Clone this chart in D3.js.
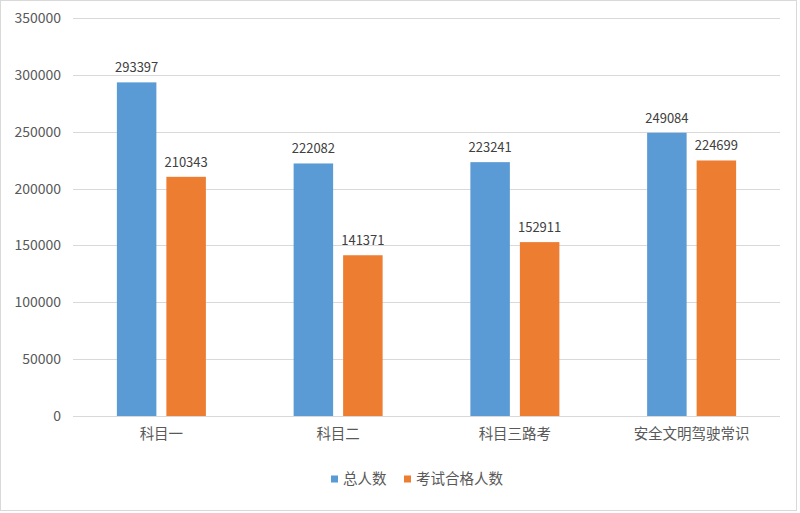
<!DOCTYPE html>
<html>
<head>
<meta charset="utf-8">
<script src="https://cdn.jsdelivr.net/npm/d3@7"></script>
<style>
  body { margin: 0; background: #fff; }
  text { font-family: "Noto Sans CJK SC", "Liberation Sans", sans-serif; }
</style>
</head>
<body>
<div id="chart"></div>
<script>
// data
var categories = ["科目一", "科目二", "科目三路考", "安全文明驾驶常识"];
var seriesNames = ["总人数", "考试合格人数"];
var totalCount = [293397, 222082, 223241, 249084];
var passCount = [210343, 141371, 152911, 224699];
var yTicks = [0, 50000, 100000, 150000, 200000, 250000, 300000, 350000];
var colors = ["#5b9bd5", "#ed7d31"];

var W = 800, H = 513;
var plotLeft = 73, plotRight = 780, plotTop = 18, plotBottom = 416;

var svg = d3.select("#chart").append("svg")
    .attr("width", W)
    .attr("height", H);

// outer frame
svg.append("rect")
    .attr("x", 0.5).attr("y", 0.5)
    .attr("width", 796).attr("height", 510)
    .attr("fill", "#fff")
    .attr("stroke", "#d9d9d9");

var x = d3.scaleBand().domain(categories).range([plotLeft, plotRight]);
var y = d3.scaleLinear().domain([0, 350000]).range([plotBottom, plotTop]);

var barW = 39.5, gap = 10;
var x1 = d3.scaleOrdinal().domain(seriesNames)
    .range([-(gap / 2 + barW), gap / 2]);

// gridlines
svg.append("g")
  .selectAll("line")
  .data(yTicks)
  .enter()
  .append("line")
    .attr("x1", plotLeft).attr("x2", plotRight)
    .attr("y1", function(d) { return Math.round(y(d)) + 0.5 })
    .attr("y2", function(d) { return Math.round(y(d)) + 0.5 })
    .attr("stroke", "#d9d9d9")
    .attr("stroke-width", 1);

// y axis labels
var yAxis = svg.append("g")
    .attr("transform", "translate(" + (plotLeft - 12) + ",0)")
    .call(d3.axisLeft(y).tickValues(yTicks).tickFormat(d3.format("d")).tickSize(0).tickPadding(0));
yAxis.select(".domain").remove();
yAxis.selectAll("text")
    .attr("fill", "#595959")
    .style("font-size", "14px")
    .style("font-family", "'Noto Sans CJK SC', sans-serif");

// category labels
var xAxis = svg.append("g")
    .attr("transform", "translate(0," + plotBottom + ")")
    .call(d3.axisBottom(x).tickSize(0).tickPadding(13));
xAxis.select(".domain").remove();
xAxis.selectAll("text")
    .attr("fill", "#595959")
    .style("font-size", "14.5px")
    .style("font-family", "'Noto Sans CJK SC', sans-serif");

var rows = categories.map(function(c, i) {
  return { cat: c, vals: [
    { s: seriesNames[0], v: totalCount[i], color: colors[0] },
    { s: seriesNames[1], v: passCount[i], color: colors[1] }
  ]};
});

var groups = svg.append("g")
  .selectAll("g")
  .data(rows)
  .enter()
  .append("g")
    .attr("transform", function(d) { return "translate(" + (x(d.cat) + x.bandwidth() / 2) + ",0)" });

groups.selectAll("rect")
  .data(function(d) { return d.vals })
  .enter()
  .append("rect")
    .attr("x", function(d) { return x1(d.s) })
    .attr("y", function(d) { return y(d.v) })
    .attr("width", barW)
    .attr("height", function(d) { return plotBottom - y(d.v) })
    .attr("fill", function(d) { return d.color });

// value labels
groups.selectAll("text")
  .data(function(d) { return d.vals })
  .enter()
  .append("text")
    .attr("x", function(d) { return x1(d.s) + barW / 2 })
    .attr("y", function(d) { return y(d.v) - 10 })
    .attr("text-anchor", "middle")
    .attr("fill", "#404040")
    .style("font-size", "13px")
    .text(function(d) { return d.v });

// legend
var legendX = [331, 404];
var legend = svg.append("g")
  .selectAll("g")
  .data(seriesNames)
  .enter()
  .append("g")
    .attr("transform", function(d, i) { return "translate(" + legendX[i] + ",479)" });
legend.append("rect")
    .attr("x", 0).attr("y", -3.5)
    .attr("width", 7).attr("height", 7)
    .attr("fill", function(d, i) { return colors[i] });
legend.append("text")
    .attr("x", 12).attr("y", 0)
    .attr("dy", "0.35em")
    .attr("fill", "#595959")
    .style("font-size", "14.5px")
    .text(function(d) { return d });
</script>
</body>
</html>
